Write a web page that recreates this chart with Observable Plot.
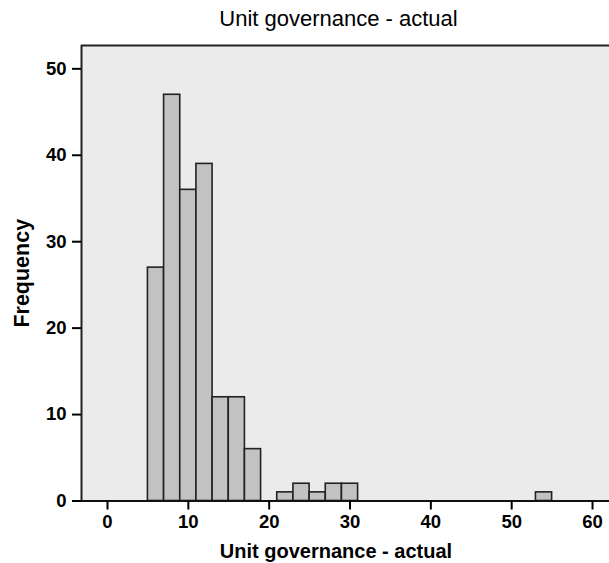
<!DOCTYPE html>
<html>
<head>
<meta charset="utf-8">
<script src="https://cdn.jsdelivr.net/npm/d3@7"></script>
<script src="https://cdn.jsdelivr.net/npm/@observablehq/plot@0.6"></script>
<style>
  html, body { margin: 0; padding: 0; background: #fff; }
  #chart svg { display: block; }
</style>
</head>
<body>
<div id="chart"></div>
<script>
const title = "Unit governance - actual";
const xLabel = "Unit governance - actual";
const yLabel = "Frequency";
const binStart = [5, 7, 9, 11, 13, 15, 17, 21, 23, 25, 27, 29, 53];
const binEnd   = [7, 9, 11, 13, 15, 17, 19, 23, 25, 27, 29, 31, 55];
const frequency = [27, 47, 36, 39, 12, 12, 6, 1, 2, 1, 2, 2, 1];
const xTicks = [0, 10, 20, 30, 40, 50, 60];
const yTicks = [0, 10, 20, 30, 40, 50];
const xDomain = [-3.216, 62.1];
const yDomain = [0, 52.7];

const bins = binStart.map((s, i) => ({x1: s, x2: binEnd[i], count: frequency[i]}));
const font = "'Liberation Sans', Arial, Helvetica, sans-serif";

const chart = Plot.plot({
  width: 609,
  height: 563,
  marginLeft: 81,
  marginRight: 0,
  marginTop: 45,
  marginBottom: 62.5,
  style: {fontFamily: font, background: "#fff", overflow: "visible", color: "#000"},
  x: {domain: xDomain},
  y: {domain: yDomain},
  marks: [
    Plot.frame({fill: "#ebebeb", stroke: "none"}),
    Plot.rectY(bins, {x1: "x1", x2: "x2", y: "count", fill: "#c2c2c2", stroke: "#222", strokeWidth: 1.6}),
    Plot.ruleX([xDomain[0]], {stroke: "#222", strokeWidth: 2}),
    Plot.ruleY([yDomain[1]], {stroke: "#222", strokeWidth: 2}),
    Plot.ruleY([yDomain[0]], {stroke: "#111", strokeWidth: 2}),
    Plot.axisY({ticks: yTicks, tickSize: 9, tickPadding: 6, strokeWidth: 2, fontSize: 18.5, fontWeight: "bold", label: null}),
    Plot.axisX({ticks: xTicks, tickSize: 9, tickPadding: 5, strokeWidth: 2, fontSize: 18.5, fontWeight: "bold", label: null}),
    Plot.text([title], {frameAnchor: "top", lineAnchor: "middle", textAnchor: "middle", dx: -7, dy: -26.5, fontSize: 22, fill: "#000"}),
    Plot.text([xLabel], {frameAnchor: "bottom", lineAnchor: "middle", textAnchor: "middle", dx: -9.5, dy: 51, fontSize: 20, fontWeight: "bold", fill: "#000"}),
    Plot.text([yLabel], {frameAnchor: "left", lineAnchor: "middle", textAnchor: "middle", dx: -59, rotate: -90, fontSize: 21.5, fontWeight: "bold", fill: "#000"})
  ]
});
document.getElementById("chart").appendChild(chart);
</script>
</body>
</html>
